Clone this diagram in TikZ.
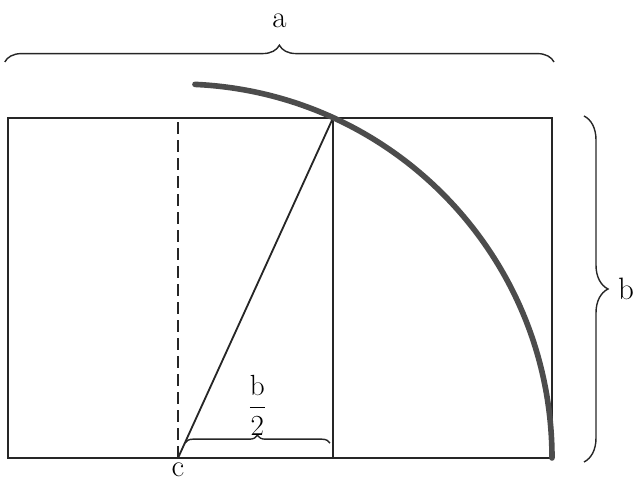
\documentclass[tikz,border=0pt]{standalone}
\usepackage{amsmath}
\usetikzlibrary{arrows.meta,positioning,calc,decorations.pathreplacing}
\tikzset{
  frameline/.style={draw=black!85, line width=1.3pt},
  dashline/.style={draw=black!85, line width=1.3pt, dash pattern=on 0.3cm off 0.15cm},
  arcline/.style={draw=black!70, line width=4pt, line cap=round},
  bracemark/.style={draw=black!85, line width=1pt, decorate},
  letter/.style={font=\fontsize{22}{26}\selectfont, inner sep=1pt}
}
\begin{document}
\begin{tikzpicture}
  \useasboundingbox (0,0) rectangle (15.925,12.05);

  % Corner points
  \coordinate (bl) at (0.2,0.6);
  \coordinate (tr) at (13.8,9.1);
  \coordinate (br) at (13.8,0.6);
  \coordinate (c) at (4.45,0.6);
  \coordinate (ctop) at (4.45,9.1);
  \coordinate (sqtop) at (8.325,9.1);
  \coordinate (sqbot) at (8.325,0.6);

  % Rectangle and square side
  \draw[frameline] (bl) rectangle (tr);
  \draw[frameline] (sqbot) -- (sqtop);

  % Dashed middle line and diagonal
  \draw[dashline] (c) -- (ctop);
  \draw[frameline] (c) -- (sqtop);

  % Arc round c
  \draw[arcline] (br) arc[start angle=0, end angle=87.4, radius=9.35];

  % Braces
  \draw[bracemark, decoration={brace, amplitude=0.42cm}] (0.12,10.5) -- (13.85,10.5) node[midway, above=0.8cm, letter] (la) {a};
  \draw[bracemark, decoration={brace, amplitude=0.6cm}] (14.6,9.15) -- (14.6,0.5) node[midway, right=0.8cm, letter] (lb) {b};
  \draw[bracemark, decoration={brace, amplitude=0.2cm}] (4.62,0.97) -- (8.25,0.97) node[midway, above=0.15cm, letter] (lhalf) {$\dfrac{\mathrm{b}}{2}$};

  % Point label
  \node[letter, inner sep=0pt, below=0.12cm of c] (lc) {c};
\end{tikzpicture}
\end{document}
